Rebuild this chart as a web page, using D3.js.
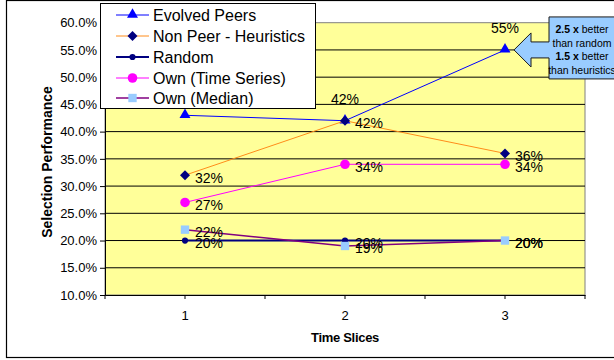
<!DOCTYPE html>
<html>
<head>
<meta charset="utf-8">
<script src="https://cdn.jsdelivr.net/npm/d3@7"></script>
<style>
  html, body { margin: 0; padding: 0; background: #fff; }
  svg { display: block; font-family: "Liberation Sans", Arial, sans-serif; }
</style>
</head>
<body>
<svg id="chart" width="614" height="360"></svg>
<script>
// Time slices on the x axis
const categories = ["1", "2", "3"];

// Selection performance per strategy
const evolvedPeers   = [0.43, 0.42, 0.55];
const nonPeerHeur    = [0.32, 0.42, 0.36];
const randomSel      = [0.20, 0.20, 0.20];
const ownTimeSeries  = [0.27, 0.34, 0.34];
const ownMedian      = [0.22, 0.19, 0.20];

const yTicks = [0.10, 0.15, 0.20, 0.25, 0.30, 0.35, 0.40, 0.45, 0.50, 0.55, 0.60];

const seriesNames = ["Evolved Peers", "Non Peer - Heuristics", "Random", "Own (Time Series)", "Own (Median)"];

const series = [
  { name: seriesNames[0], values: evolvedPeers,  line: "#0000FF", lw: 1,   marker: "triangle", fill: "#0000FF", label: "top" },
  { name: seriesNames[1], values: nonPeerHeur,   line: "#FF8C1A", lw: 1,   marker: "diamond",  fill: "#000080", label: "right" },
  { name: seriesNames[2], values: randomSel,     line: "#000080", lw: 2,   marker: "smallcircle", fill: "#000080", label: "right" },
  { name: seriesNames[3], values: ownTimeSeries, line: "#FF00FF", lw: 1,   marker: "circle",   fill: "#FF00FF", label: "right" },
  { name: seriesNames[4], values: ownMedian,     line: "#800080", lw: 1.5, marker: "square",   fill: "#99CCFF", label: "right" }
];

const svg = d3.select("#chart");
const plot = { left: 105, right: 585, top: 22.7, bottom: 295 };

// Outer chart frame
svg.append("rect")
  .attr("x", 6.5).attr("y", 0.5).attr("width", 640).attr("height", 357)
  .attr("fill", "#fff").attr("stroke", "#000").attr("stroke-width", 1.2);

const x = d3.scaleBand().domain(categories).range([plot.left, plot.right]);
const y = d3.scaleLinear().domain([0.10, 0.60]).range([plot.bottom, plot.top]);
const cx = c => x(c) + x.bandwidth() / 2;

// Plot area background
svg.append("rect")
  .attr("x", plot.left).attr("y", plot.top)
  .attr("width", plot.right - plot.left).attr("height", plot.bottom - plot.top)
  .attr("fill", "#FFFF99").attr("stroke", "#808080").attr("stroke-width", 1);

// Horizontal gridlines
svg.append("g").selectAll("line")
  .data(yTicks.slice(1, -1))
  .join("line")
  .attr("x1", plot.left).attr("x2", plot.right)
  .attr("y1", d => y(d)).attr("y2", d => y(d))
  .attr("stroke", "#000").attr("stroke-width", 1);

// Y axis
const yAxis = svg.append("g")
  .attr("transform", `translate(${plot.left},0)`)
  .call(d3.axisLeft(y).tickValues(yTicks).tickFormat(d3.format(".1%")).tickSize(5).tickPadding(3));
yAxis.select(".domain").attr("stroke", "#000");
yAxis.selectAll("text").attr("font-size", 13).attr("fill", "#000")
  .attr("font-family", "Liberation Sans, Arial, sans-serif");

// X axis: ticks at category centres and band boundaries
const xAxis = svg.append("g")
  .attr("transform", `translate(0,${plot.bottom})`)
  .call(d3.axisBottom(x).tickSize(4).tickPadding(0).tickSizeOuter(0));
xAxis.select(".domain").attr("stroke", "#000");
xAxis.selectAll("text").attr("font-size", 13).attr("fill", "#000").attr("dy", "1.6em")
  .attr("font-family", "Liberation Sans, Arial, sans-serif");
const bounds = categories.map(c => x(c)).concat([x(categories[categories.length - 1]) + x.bandwidth()]);
xAxis.selectAll(".bound").data(bounds).join("line").attr("class", "bound")
  .attr("x1", d => d).attr("x2", d => d).attr("y1", 0).attr("y2", 4)
  .attr("stroke", "#000");

// Axis titles
svg.append("text")
  .attr("transform", `translate(47,162) rotate(-90)`)
  .attr("text-anchor", "middle").attr("dominant-baseline", "central")
  .attr("font-size", 14).attr("font-weight", "bold")
  .text("Selection Performance");
svg.append("text")
  .attr("x", (plot.left + plot.right) / 2).attr("y", 337)
  .attr("text-anchor", "middle").attr("dominant-baseline", "central")
  .attr("font-size", 13).attr("font-weight", "bold").attr("letter-spacing", -0.3)
  .text("Time Slices");

// Marker shapes
function markerPath(kind) {
  switch (kind) {
    case "triangle":    return d3.symbol(d3.symbolTriangle, 52)();
    case "diamond":     return d3.symbol(d3.symbolSquare, 50)();
    case "smallcircle": return d3.symbol(d3.symbolCircle, 30)();
    case "circle":      return d3.symbol(d3.symbolCircle, 72)();
    case "square":      return d3.symbol(d3.symbolSquare, 70)();
  }
}
function drawMarker(g, kind, fill, px, py) {
  g.append("path")
    .attr("d", markerPath(kind))
    .attr("transform", `translate(${px},${py})` + (kind === "diamond" ? " rotate(45)" : "") + (kind === "triangle" ? " translate(0,-0.5)" : ""))
    .attr("fill", fill);
}

const line = d3.line().x((d, i) => cx(categories[i])).y(d => y(d));
const fmt = d3.format(".0%");

// Series lines and markers
const marks = svg.append("g");
series.forEach(s => {
  marks.append("path")
    .attr("d", line(s.values))
    .attr("fill", "none").attr("stroke", s.line).attr("stroke-width", s.lw);
  s.values.forEach((v, i) => drawMarker(marks, s.marker, s.fill, cx(categories[i]), y(v)));
});

// Data labels
const labels = svg.append("g").attr("font-size", 14).attr("fill", "#000");
series.forEach(s => {
  s.values.forEach((v, i) => {
    const t = labels.append("text").text(fmt(v)).attr("dominant-baseline", "central");
    if (s.label === "top") {
      t.attr("x", cx(categories[i])).attr("y", y(v) - 22).attr("text-anchor", "middle");
    } else {
      t.attr("x", cx(categories[i]) + 10).attr("y", y(v) + 2.5).attr("text-anchor", "start");
    }
  });
});

// Legend
const legend = svg.append("g");
legend.append("rect")
  .attr("x", 100.5).attr("y", 3.5).attr("width", 215).attr("height", 105)
  .attr("fill", "#fff").attr("stroke", "#000").attr("stroke-width", 1);
const rowY = [15, 36, 57, 78, 98];
series.forEach((s, i) => {
  const ly = rowY[i];
  legend.append("line")
    .attr("x1", 116).attr("x2", 149).attr("y1", ly).attr("y2", ly)
    .attr("stroke", s.line).attr("stroke-width", s.lw);
  drawMarker(legend, s.marker, s.fill, 132.5, ly);
  legend.append("text")
    .attr("x", 153).attr("y", ly).attr("dominant-baseline", "central")
    .attr("font-size", 16).attr("fill", "#000")
    .text(s.name);
});

// Callout pointing at the final Evolved Peers value
const tipX = cx(categories[2]) + 9, tipY = y(evolvedPeers[2]);
const callout = svg.append("g");
callout.append("path")
  .attr("d", d3.line()([
    [tipX, tipY], [tipX + 17, tipY - 17], [tipX + 17, tipY - 8], [tipX + 35, tipY - 8],
    [tipX + 35, tipY - 33], [tipX + 110, tipY - 33], [tipX + 110, tipY + 29],
    [tipX + 35, tipY + 29], [tipX + 35, tipY + 8], [tipX + 17, tipY + 8],
    [tipX + 17, tipY + 17]
  ]) + "Z")
  .attr("fill", "#99CCFF").attr("stroke", "#1a1a1a").attr("stroke-width", 1);
const calloutLines = [
  [["2.5 x", true], [" better", false]],
  [["than random", false]],
  [["1.5 x", true], [" better", false]],
  [["than heuristics", false]]
];
calloutLines.forEach((parts, i) => {
  const t = callout.append("text")
    .attr("x", tipX + 68).attr("y", tipY - 21 + i * 13.7)
    .attr("text-anchor", "middle").attr("dominant-baseline", "central")
    .attr("font-size", 10.5).attr("fill", "#000");
  parts.forEach(([txt, bold]) => t.append("tspan").attr("font-weight", bold ? "bold" : "normal").text(txt));
});
</script>
</body>
</html>
